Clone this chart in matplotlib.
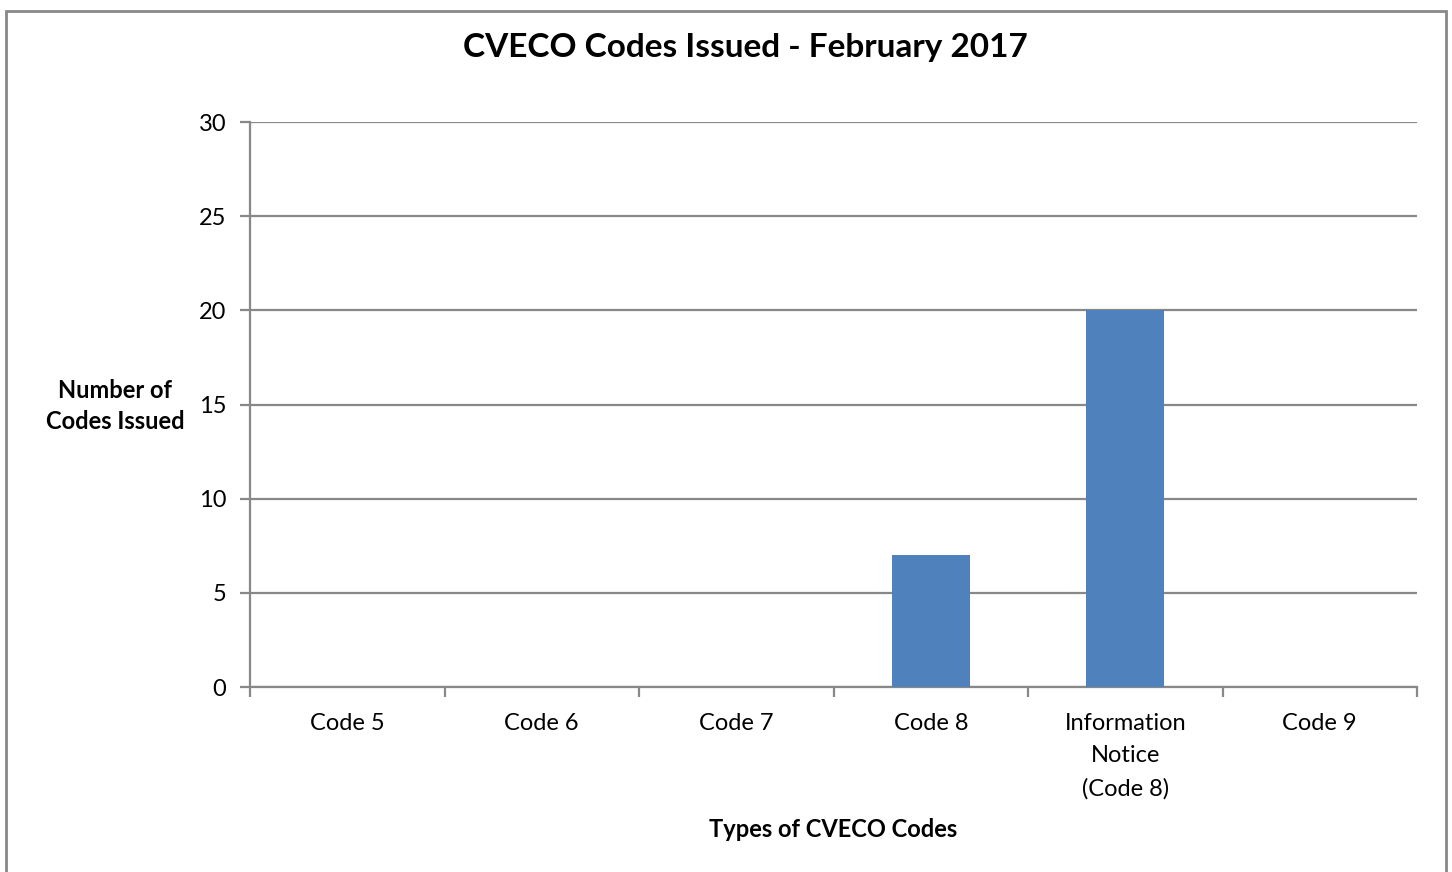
import matplotlib.pyplot as plt
import numpy as np
from matplotlib.patches import Rectangle

categories = ['Code 5', 'Code 6', 'Code 7', 'Code 8', 'Information\nNotice\n(Code 8)', 'Code 9']
codes_issued = [0, 0, 0, 7, 20, 0]
y_ticks = [0, 5, 10, 15, 20, 25, 30]

plt.rcParams['font.family'] = ['Lato', 'DejaVu Sans']

W, H = 1452, 872
fig = plt.figure(figsize=(W / 100, H / 100), dpi=100)
ax = fig.add_axes([250 / W, 1 - 687 / H, (1417 - 250) / W, (687 - 122) / H])

grid_col = '#888888'
x = np.arange(len(categories))
ax.bar(x, codes_issued, width=0.4, color='#4F81BD', zorder=3)

ax.set_xlim(-0.5, len(categories) - 0.5)
ax.set_ylim(0, 30)
ax.set_yticks(y_ticks)
ax.yaxis.grid(True, color=grid_col, linewidth=1.6, zorder=0)
ax.tick_params(axis='y', length=7, width=1.6, color=grid_col, labelsize=17, pad=10)

# category labels sit in the middle, tick marks at the boundaries
ax.set_xticks(np.arange(len(categories) + 1) - 0.5)
ax.set_xticklabels([])
ax.set_xticks(x, minor=True)
ax.set_xticklabels(categories, minor=True, fontsize=17, linespacing=1.65, va='top')
ax.tick_params(axis='x', which='major', length=7, width=1.6, color=grid_col)
ax.tick_params(axis='x', which='minor', length=0, pad=19)

for side in ['top', 'right']:
    ax.spines[side].set_visible(False)
for side in ['left', 'bottom']:
    ax.spines[side].set_color(grid_col)
    ax.spines[side].set_linewidth(1.6)

fig.text(745 / W, 1 - 48 / H, 'CVECO Codes Issued - February 2017', ha='center', va='center',
         fontsize=24, fontweight='bold')
fig.text(115 / W, 1 - 406 / H, 'Number of\nCodes Issued', ha='center', va='center',
         fontsize=17, fontweight='bold', linespacing=1.45)
fig.text(833 / W, 1 - 829 / H, 'Types of CVECO Codes', ha='center', va='center',
         fontsize=17, fontweight='bold')

# outer chart border
fig.patches.append(Rectangle((6 / W, -0.05), 1440 / W, 1.05 - 11 / H, transform=fig.transFigure,
                             fill=False, edgecolor=grid_col, linewidth=2))

fig.savefig('out.png', dpi=100)
